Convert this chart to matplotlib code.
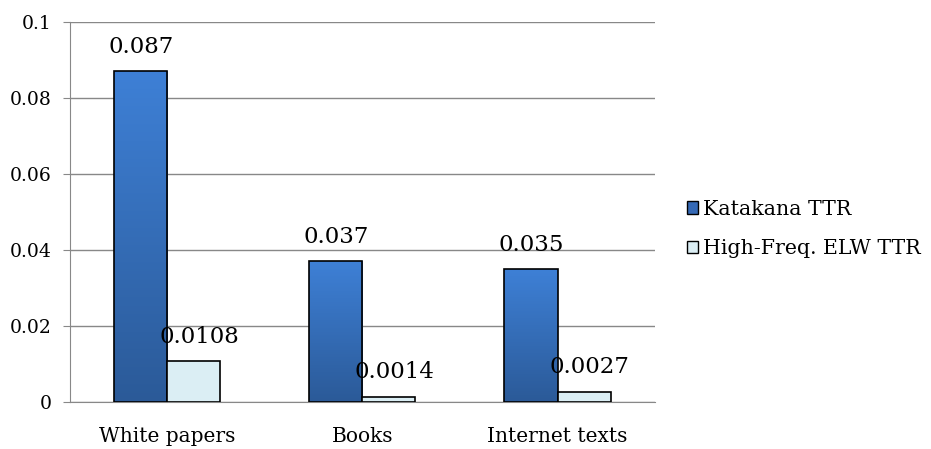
import numpy as np
import matplotlib.pyplot as plt
from matplotlib.patches import Patch
from matplotlib.colors import LinearSegmentedColormap

categories = ["White papers", "Books", "Internet texts"]
katakana_ttr = [0.087, 0.037, 0.035]
elw_ttr = [0.0108, 0.0014, 0.0027]
katakana_labels = ["0.087", "0.037", "0.035"]
elw_labels = ["0.0108", "0.0014", "0.0027"]

plt.rcParams['font.family'] = ['DejaVu Serif']

fig = plt.figure(figsize=(9.31, 4.49), dpi=100)
ax = fig.add_axes([0.075, 0.1047, 0.6286, 0.8463])

x = np.arange(len(categories))
w = 0.272
blue_cmap = LinearSegmentedColormap.from_list("bl", ["#2b5a98", "#3e80d6"])
grad = np.linspace(0, 1, 256).reshape(-1, 1)

bars1 = ax.bar(x - w / 2, katakana_ttr, w, color="none", edgecolor="black", linewidth=1.2, zorder=3)
for b in bars1:
    x0, y0, bw, bh = b.get_x(), b.get_y(), b.get_width(), b.get_height()
    ax.imshow(grad, cmap=blue_cmap, origin="lower", aspect="auto",
              extent=[x0, x0 + bw, y0, y0 + bh], zorder=2)
bars2 = ax.bar(x + w / 2, elw_ttr, w, color="#dbeef4", edgecolor="black", linewidth=1.2, zorder=3)

for b, t in zip(bars1, katakana_labels):
    ax.text(b.get_x() + b.get_width() / 2, b.get_height() + 0.0035, t,
            ha="center", va="bottom", fontsize=16.5)
for b, t in zip(bars2, elw_labels):
    ax.text(b.get_x() + b.get_width() / 2 + 0.03, b.get_height() + 0.0035, t,
            ha="center", va="bottom", fontsize=16.5)

ax.set_xlim(-0.5, 2.5)
ax.set_ylim(0, 0.1)
ax.set_yticks([0, 0.02, 0.04, 0.06, 0.08, 0.1])
ax.set_yticklabels(["0", "0.02", "0.04", "0.06", "0.08", "0.1"])
ax.set_xticks(x)
ax.set_xticklabels(categories)
ax.tick_params(axis="y", labelsize=13.5, length=5, color="#888888", pad=8)
ax.tick_params(axis="x", labelsize=14.5, length=0, pad=18)
ax.grid(axis="y", color="#888888", linewidth=1, zorder=0)
ax.set_axisbelow(True)
for s in ["top", "right"]:
    ax.spines[s].set_visible(False)
ax.spines["left"].set_color("#888888")
ax.spines["bottom"].set_color("#888888")

handles = [Patch(facecolor="#3569b5", edgecolor="black", label="Katakana TTR"),
           Patch(facecolor="#dbeef4", edgecolor="black", label="High-Freq. ELW TTR")]
fig.legend(handles=handles, loc="center left", bbox_to_anchor=(0.718, 0.49),
           frameon=False, fontsize=14.8, handlelength=0.55, handleheight=0.55,
           handletextpad=0.25, labelspacing=1.0)

fig.savefig("out.png", dpi=100)
